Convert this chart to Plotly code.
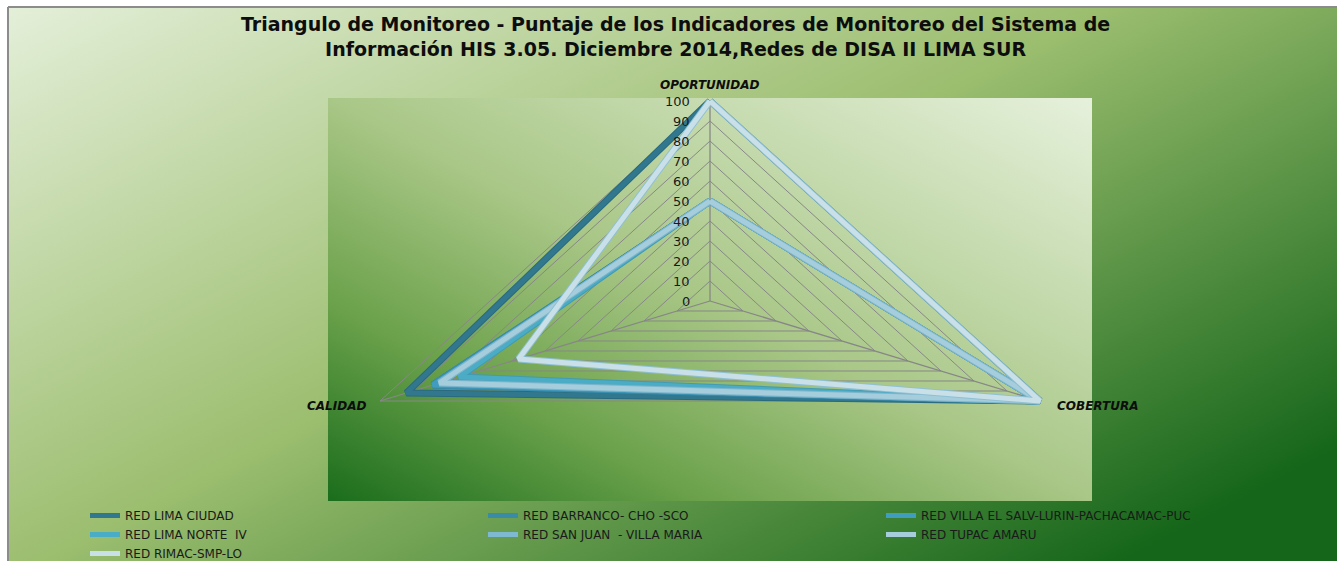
import base64
import math
import plotly.graph_objects as go

# ---------------- data ----------------
categories = ["OPORTUNIDAD", "COBERTURA", "CALIDAD"]
category_angles = [90, -30, 210]

series_names = [
    "RED LIMA CIUDAD",
    "RED BARRANCO- CHO -SCO",
    "RED VILLA EL SALV-LURIN-PACHACAMAC-PUC",
    "RED LIMA NORTE  IV",
    "RED SAN JUAN  - VILLA MARIA",
    "RED TUPAC AMARU",
    "RED RIMAC-SMP-LO",
]
red_lima_ciudad = [100, 100, 92]
red_barranco = [50, 100, 84]
red_villa_salvador = [50, 100, 84]
red_lima_norte = [50, 100, 76]
red_san_juan = [50, 100, 82]
red_tupac_amaru = [50, 100, 82]
red_rimac = [100, 100, 58]
series_values = [red_lima_ciudad, red_barranco, red_villa_salvador, red_lima_norte,
                 red_san_juan, red_tupac_amaru, red_rimac]
series_colors = ["#31788F", "#3A8CA6", "#409DC0", "#4BACC6", "#7EB9D1", "#A6CDDC", "#C9E0E9"]
series_edges = ["#2B6A7E", "#337C94", "#3A8DAD", "#429BB3", "#6AA8C2", "#7DB6CC", "#8FC0D3"]

tick_values = [0, 10, 20, 30, 40, 50, 60, 70, 80, 90, 100]
tick_labels = [str(v) for v in tick_values]

title_text = ("Triangulo de Monitoreo - Puntaje de los Indicadores de Monitoreo del Sistema de<br>"
              "Información HIS 3.05. Diciembre 2014,Redes de DISA II LIMA SUR")

# ---------------- geometry helpers ----------------
W, H = 1337, 561
CX, CY = 710, 301          # radar centre in page pixels
SX, SY = 330 / 86.6, 2.0   # px per data unit (chart is stretched horizontally)


def to_xy(values):
    xs, ys = [], []
    for v, a in zip(values, category_angles):
        xs.append(v * math.cos(math.radians(a)))
        ys.append(v * math.sin(math.radians(a)))
    xs.append(xs[0])
    ys.append(ys[0])
    return xs, ys


def px_x(x):
    return x / W


def px_y(y):
    return 1 - y / H


def svg_gradient(w, h, x1, y1, x2, y2, stops):
    st = "".join(f'<stop offset="{o}" stop-color="{c}"/>' for o, c in stops)
    svg = (f'<svg xmlns="http://www.w3.org/2000/svg" width="{w}" height="{h}" '
           f'viewBox="0 0 {w} {h}" preserveAspectRatio="none">'
           f'<defs><linearGradient id="g" x1="{x1}" y1="{y1}" x2="{x2}" y2="{y2}">{st}</linearGradient></defs>'
           f'<rect x="0" y="0" width="{w}" height="{h}" fill="url(#g)"/></svg>')
    return "data:image/svg+xml;base64," + base64.b64encode(svg.encode()).decode()


fig = go.Figure()

# grid rings
for v in tick_values[1:]:
    xs, ys = to_xy([v, v, v])
    fig.add_trace(go.Scatter(x=xs, y=ys, mode="lines", line=dict(color="#878787", width=1),
                             hoverinfo="skip", showlegend=False))
# spokes
for a in category_angles:
    fig.add_trace(go.Scatter(x=[0, 100 * math.cos(math.radians(a))],
                             y=[0, 100 * math.sin(math.radians(a))],
                             mode="lines", line=dict(color="#878787", width=1.3),
                             hoverinfo="skip", showlegend=False))

# series (thin darker edge underneath, main line on top)
for name, vals, col, edge in zip(series_names, series_values, series_colors, series_edges):
    xs, ys = to_xy(vals)
    fig.add_trace(go.Scatter(x=xs, y=ys, mode="lines", line=dict(color=edge, width=7),
                             hoverinfo="skip", showlegend=False))
    fig.add_trace(go.Scatter(x=xs, y=ys, mode="lines", name=name,
                             line=dict(color=col, width=5),
                             hovertemplate=name + "<extra></extra>"))

annotations = []
for v, t in zip(tick_values, tick_labels):
    annotations.append(dict(x=0, y=v, xref="x", yref="y", text=t, showarrow=False,
                            xanchor="right", yanchor="middle", xshift=-18,
                            font=dict(family="DejaVu Sans", size=13, color="#1a1a1a")))
annotations.append(dict(x=0, y=100, xref="x", yref="y", text="<b><i>OPORTUNIDAD</i></b>",
                        showarrow=False, xanchor="center", yanchor="middle", yshift=16,
                        font=dict(family="DejaVu Sans", size=12, color="#0d0d0d")))
annotations.append(dict(x=100 * math.cos(math.radians(210)), y=-50, xref="x", yref="y",
                        text="<b><i>CALIDAD</i></b>", showarrow=False, xanchor="right",
                        yanchor="middle", xshift=-12, yshift=-5,
                        font=dict(family="DejaVu Sans", size=12, color="#0d0d0d")))
annotations.append(dict(x=100 * math.cos(math.radians(-30)), y=-50, xref="x", yref="y",
                        text="<b><i>COBERTURA</i></b>", showarrow=False, xanchor="left",
                        yanchor="middle", xshift=15, yshift=-5,
                        font=dict(family="DejaVu Sans", size=12, color="#0d0d0d")))
# title (two lines)
annotations.append(dict(x=px_x(675), y=px_y(36), xref="paper", yref="paper",
                        text="<b>" + title_text + "</b>", showarrow=False,
                        xanchor="center", yanchor="middle", align="center",
                        font=dict(family="DejaVu Sans", size=19, color="#0d0d0d")))

chart_bg = svg_gradient(W - 8, H - 7, 0, 0, 1, 0.8,
                        [(0, "#E4EFD9"), (0.5, "#9CBE6F"), (1, "#15661A")])
plot_bg = svg_gradient(764, 403, 1, 0, 0, 1,
                       [(0, "#E6F1DC"), (0.5, "#A9C787"), (0.75, "#6CA24B"), (1, "#1A6D1C")])

images = [
    dict(source=chart_bg, xref="paper", yref="paper", x=px_x(8), y=px_y(7),
         sizex=(W - 8) / W, sizey=(H - 7) / H, xanchor="left", yanchor="top",
         sizing="stretch", layer="below"),
    dict(source=plot_bg, xref="paper", yref="paper", x=px_x(328), y=px_y(98),
         sizex=764 / W, sizey=403 / H, xanchor="left", yanchor="top",
         sizing="stretch", layer="below"),
]

shapes = [
    dict(type="line", xref="paper", yref="paper", x0=px_x(8), x1=px_x(8), y0=px_y(7), y1=0,
         line=dict(color="#8C8C8C", width=2)),
    dict(type="line", xref="paper", yref="paper", x0=px_x(8), x1=1, y0=px_y(7), y1=px_y(7),
         line=dict(color="#8C8C8C", width=2)),
]

fig.update_layout(
    width=W, height=H,
    margin=dict(l=0, r=0, t=0, b=0, autoexpand=False),
    paper_bgcolor="white",
    plot_bgcolor="rgba(0,0,0,0)",
    xaxis=dict(range=[-CX / SX, (W - CX) / SX], visible=False, fixedrange=True),
    yaxis=dict(range=[-(H - CY) / SY, CY / SY], visible=False, fixedrange=True),
    legend=dict(orientation="h", x=px_x(85), y=px_y(501), xanchor="left", yanchor="top",
                entrywidth=353, entrywidthmode="pixels", bgcolor="rgba(0,0,0,0)",
                font=dict(family="DejaVu Sans", size=12, color="#1a1a1a"),
                itemclick=False, itemdoubleclick=False),
    annotations=annotations,
    images=images,
    shapes=shapes,
    showlegend=True,
)

fig.write_html("out.html", include_plotlyjs=True, config={"displayModeBar": False},
               post_script="document.body.style.margin='0';document.body.style.overflow='hidden';")
